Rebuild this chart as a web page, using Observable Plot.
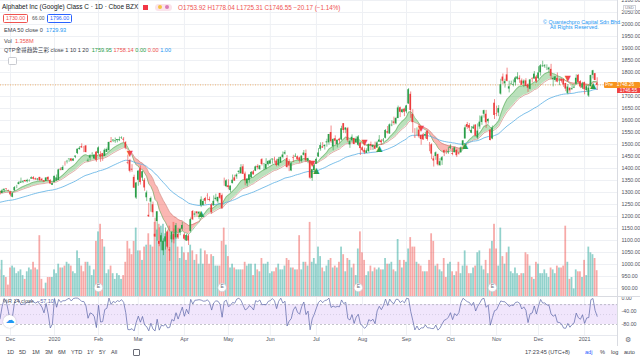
<!DOCTYPE html>
<html><head><meta charset="utf-8">
<script src="https://cdn.jsdelivr.net/npm/d3@7"></script>
<script src="https://cdn.jsdelivr.net/npm/@observablehq/plot@0.6"></script>
<style>
body{margin:0;background:#fff}
#wrap{position:relative;width:640px;height:360px;overflow:hidden;font-family:"Liberation Sans","Noto Sans CJK SC",Arial,sans-serif;background:#fff;color:#131722}
.layer{position:absolute;left:0}
.t{position:absolute;white-space:nowrap;line-height:1}
</style></head><body><div id="wrap"></div>
<script>
// ---------- DATA (GOOG daily, Nov 22 2019 -> Jan 12 2021) ----------
const open = [
1303,1296,1309,1315,1307,
1302,1280,1307,1328,1333,1339,1342,1350,1345,1347,1356,1362,1357,1352,1363,1355,1349,1346,1363,1350,1330,
1341,1348,1350,1397,1392,1420,1428,1437,1440,1431,1447,1462,1479,1491,1487,1494,1431,1443,1458,1440,1468,
1462,1457,1462,1450,1467,1474,1512,1515,1512,1516,1516,1525,1522,1508,1424,1433,1397,1363,1277,
1351,1399,1360,1351,1278,1205,1260,1249,1126,1179,1096,1093,1057,1094,1135,1061,1103,1126,1111,1126,1132,1147,
1123,1098,1119,1138,1221,1206,1219,1210,1245,1246,1275,1284,1271,1248,1245,1271,1261,1296,1287,1342,1324,
1328,1308,1337,1361,1365,1384,1378,1407,1377,1336,1350,1362,1386,1389,1409,1396,1437,1417,1397,1416,
1418,1436,1438,1431,1413,1422,1446,1460,1442,1428,1390,1445,1448,1449,1444,1430,1455,1462,1430,1432,1359,1391,
1418,1448,1480,1490,1491,1507,1507,1550,1491,1524,1500,1522,1519,1587,1560,1566,1498,1516,1525,1507,1497,1505,
1486,1476,1463,1471,1500,1488,1492,1485,1510,1515,1515,1526,1553,1544,1578,1594,1586,1608,1653,1633,1647,
1636,1669,1709,1625,1533,1557,1560,1538,1540,1536,1555,1496,1499,1440,1450,1458,1412,1432,1474,1470,1466,
1484,1462,1466,1475,1464,1465,1495,1523,1583,1579,1547,1565,1581,1527,1573,1592,1626,1626,1595,1560,1523,1672,
1628,1631,1710,1781,1753,1790,1731,1751,1747,1757,1772,1776,1765,1752,1765,1749,1730,1773,1773,1781,
1774,1799,1824,1824,1819,1811,1813,1770,1767,1775,1765,1772,1771,1754,1713,1734,1728,1735,1751,1788,1762,1735,
1758,1725,1702,1741,1788,1795,1753.9];
const high = [
1306,1313,1314,1316,1310,
1305,1299,1325,1330,1345,1360,1350,1351,1355,1353,1365,1366,1360,1358,1363,1359,1350,1362,1365,1354,1339,
1368,1373,1397,1403,1411,1428,1434,1440,1441,1441,1452,1481,1491,1503,1492,1495,1440,1457,1466,1457,1471,
1490,1470,1463,1482,1485,1509,1529,1520,1527,1521,1531,1532,1529,1512,1456,1438,1416,1372,1342,
1390,1411,1389,1358,1306,1255,1281,1260,1193,1220,1153,1130,1107,1152,1143,1071,1135,1148,1171,1151,1151,1176,
1130,1126,1124,1194,1225,1220,1220,1220,1282,1272,1280,1295,1281,1254,1286,1293,1281,1297,1294,1360,1353,
1353,1327,1373,1372,1378,1390,1416,1416,1385,1357,1374,1387,1392,1410,1416,1412,1441,1421,1441,1433,
1438,1440,1447,1438,1446,1447,1469,1474,1454,1437,1424,1455,1461,1452,1447,1452,1475,1477,1443,1432,1395,1416,
1444,1483,1507,1508,1499,1522,1542,1577,1524,1536,1518,1526,1576,1587,1570,1571,1517,1540,1526,1532,1537,1508,
1490,1485,1482,1502,1510,1497,1510,1513,1537,1521,1525,1562,1575,1586,1599,1614,1613,1660,1656,1647,1651,
1663,1733,1719,1645,1566,1569,1584,1540,1546,1551,1557,1508,1503,1451,1469,1460,1441,1450,1476,1477,1489,
1499,1483,1488,1480,1468,1490,1516,1580,1592,1587,1575,1581,1582,1586,1619,1621,1643,1642,1607,1563,1577,1687,
1660,1662,1772,1794,1772,1818,1764,1764,1769,1782,1799,1786,1773,1769,1774,1753,1771,1778,1804,1788,
1824,1833,1847,1833,1832,1822,1834,1781,1784,1798,1773,1773,1773,1755,1750,1737,1747,1747,1790,1792,1766,1759,
1760,1748,1748,1789,1809,1796,1778.0];
const low = [
1289,1295,1300,1309,1303,
1282,1278,1304,1316,1332,1338,1337,1342,1340,1343,1355,1352,1351,1348,1345,1347,1342,1346,1345,1333,1329,
1341,1347,1350,1390,1391,1410,1419,1426,1428,1429,1441,1458,1476,1484,1466,1465,1426,1431,1447,1437,1426,
1458,1426,1430,1450,1467,1474,1506,1508,1505,1507,1512,1521,1506,1478,1416,1382,1384,1317,1271,
1326,1331,1346,1305,1262,1196,1218,1196,1113,1097,1074,1057,1037,1060,1065,1013,1090,1086,1104,1104,1120,1139,
1099,1096,1079,1131,1183,1195,1196,1188,1237,1244,1250,1266,1261,1209,1242,1265,1254,1270,1230,1326,1320,
1311,1299,1336,1347,1355,1375,1377,1375,1328,1323,1339,1359,1373,1387,1394,1392,1411,1391,1395,1410,
1418,1418,1422,1407,1408,1422,1440,1456,1402,1387,1387,1425,1446,1434,1422,1423,1452,1425,1420,1355,1347,1385,
1418,1446,1472,1484,1477,1489,1497,1505,1474,1498,1486,1503,1516,1546,1545,1508,1484,1510,1499,1507,1492,1454,
1469,1458,1463,1466,1475,1475,1478,1485,1508,1497,1507,1523,1543,1542,1574,1580,1582,1608,1612,1630,1616,
1628,1667,1609,1547,1525,1535,1525,1497,1517,1523,1514,1470,1437,1406,1434,1410,1409,1413,1450,1458,1459,
1479,1453,1465,1446,1456,1465,1489,1523,1563,1554,1545,1563,1533,1519,1563,1580,1610,1567,1585,1515,1520,1604,
1616,1616,1706,1750,1735,1761,1715,1747,1740,1744,1768,1755,1746,1737,1741,1717,1728,1756,1772,1755,
1770,1785,1822,1817,1808,1797,1770,1740,1760,1757,1745,1756,1738,1720,1707,1713,1727,1733,1746,1753,1733,1729,
1707,1719,1696,1739,1773,1766,1725.3];
const close = [
1295.3,1306.7,1313.6,1313.0,1305.0,
1289.9,1295.3,1320.5,1328.1,1340.6,1343.6,1344.7,1345.0,1350.3,1347.8,1361.2,1355.1,1352.6,1356.0,1349.6,1348.8,1343.6,1360.4,1351.9,1336.1,1337.0,
1367.4,1360.7,1394.2,1393.3,1404.3,1419.8,1429.7,1439.2,1430.9,1439.2,1451.7,1480.4,1484.4,1486.0,1486.7,1466.7,1433.9,1452.6,1458.6,1455.8,1434.2,
1485.9,1447.1,1448.2,1476.2,1479.2,1508.7,1508.8,1518.3,1514.7,1520.7,1520.0,1526.7,1518.2,1485.1,1421.6,1388.5,1393.2,1318.1,1339.3,
1389.1,1341.4,1386.5,1319.0,1298.4,1198.8,1275.1,1215.6,1114.9,1219.7,1084.3,1119.8,1096.8,1115.3,1072.3,1056.6,1134.5,1102.5,1161.8,1110.7,1146.8,1162.8,
1105.6,1120.8,1097.9,1186.9,1186.5,1210.3,1211.5,1217.6,1269.2,1262.5,1263.5,1283.3,1266.6,1216.3,1263.2,1276.3,1279.3,1275.9,1233.7,1341.5,1348.7,
1320.6,1326.8,1351.1,1347.3,1372.6,1388.4,1403.3,1375.7,1349.3,1356.1,1373.2,1383.9,1373.5,1406.7,1402.8,1410.4,1417.0,1417.8,1416.7,1428.9,
1431.8,1439.2,1436.4,1412.2,1438.4,1446.6,1456.2,1465.9,1403.8,1413.2,1419.9,1442.7,1451.1,1436.0,1431.7,1451.9,1464.4,1432.0,1441.3,1359.9,1395.0,1413.6,
1438.0,1464.7,1495.7,1485.2,1496.0,1511.0,1541.7,1511.3,1520.6,1513.6,1518.0,1515.6,1565.7,1558.4,1568.5,1515.7,1511.9,1530.2,1500.3,1522.0,1531.5,1483.0,
1474.5,1465.0,1473.6,1500.1,1494.5,1496.1,1480.3,1506.6,1518.5,1507.7,1518.0,1558.6,1547.5,1581.8,1580.4,1588.2,1608.2,1652.4,1634.3,1644.4,1634.2,
1660.7,1728.3,1641.8,1591.0,1532.4,1557.0,1532.0,1520.7,1519.3,1541.4,1520.9,1495.5,1460.0,1431.2,1465.5,1415.2,1428.3,1445.0,1464.5,1469.3,1469.6,
1490.1,1458.4,1486.0,1453.4,1460.3,1485.9,1515.2,1569.2,1571.7,1568.1,1559.1,1573.0,1534.6,1555.9,1593.3,1615.3,1641.0,1590.5,1604.3,1516.6,1567.2,1621.0,
1626.0,1650.2,1749.1,1763.4,1761.8,1763.0,1740.4,1752.7,1749.8,1777.0,1781.4,1770.2,1746.8,1763.9,1742.2,1734.9,1768.9,1771.4,1793.2,1760.7,
1798.1,1828.0,1826.8,1828.0,1819.5,1818.6,1784.1,1775.3,1781.8,1760.1,1767.8,1763.0,1747.9,1731.0,1739.4,1723.5,1732.4,1738.9,1776.1,1758.7,1739.5,1751.9,
1728.2,1740.9,1735.3,1787.3,1807.2,1766.7,1746.6];
const volume = [ // millions
1.4,1.9,1.1,1.0,0.6,
1.5,1.6,1.5,1.2,1.3,1.4,1.1,0.9,1.3,1.5,1.4,1.8,1.5,1.4,3.2,0.9,0.4,0.7,1.0,1.0,1.0,
1.4,1.2,1.7,1.5,1.5,1.6,1.8,1.7,1.6,1.3,1.2,2.4,2.0,1.6,1.3,1.8,1.8,1.6,1.1,1.4,2.9,
3.4,3.8,3.0,2.6,1.2,1.4,1.6,1.2,0.9,1.2,1.1,0.9,1.1,1.8,2.9,2.5,2.2,2.9,3.6,
2.4,2.4,1.9,2.6,2.7,3.3,2.7,2.6,3.9,3.5,3.8,3.7,3.8,3.3,3.4,3.7,3.2,3.9,3.4,2.6,2.0,2.6,
2.3,1.9,2.3,2.7,2.4,1.9,2.2,1.7,2.5,1.7,2.4,2.2,1.7,2.2,2.1,1.6,1.6,1.6,2.9,3.6,2.7,
2.1,1.5,1.7,1.5,1.4,1.4,1.4,1.4,1.8,1.6,1.7,1.7,1.1,1.7,1.4,1.3,2.0,1.7,1.7,1.8,
1.2,1.3,1.3,1.5,1.7,1.4,1.4,1.6,2.0,1.9,1.5,1.5,1.4,1.4,3.2,1.4,1.8,1.8,1.6,3.9,1.8,2.0,
1.7,2.6,2.1,1.5,1.3,1.6,1.9,2.0,1.5,1.6,1.5,1.8,2.6,2.2,1.3,2.0,1.9,1.5,1.7,1.1,2.5,3.4,
2.3,1.9,1.1,1.3,1.6,1.3,1.5,1.4,1.5,1.4,1.4,2.0,1.7,1.7,1.8,1.4,1.3,3.0,1.9,1.5,1.9,
1.8,2.5,3.1,2.6,2.6,1.8,1.7,1.6,1.3,1.3,1.3,1.9,3.3,2.9,1.6,1.7,1.4,1.3,2.0,1.0,1.7,
1.8,1.3,1.1,1.3,1.8,1.2,1.6,2.4,1.6,1.2,1.2,1.5,1.6,2.3,2.4,1.6,1.4,1.9,1.2,2.5,2.9,3.8,
2.5,1.6,3.6,2.1,1.7,2.3,2.6,1.3,1.2,1.5,1.2,1.1,1.2,1.2,2.3,2.2,1.6,1.0,0.9,1.8,
1.7,1.2,1.2,1.4,1.2,1.0,1.5,1.4,1.2,1.6,1.5,1.5,1.6,3.7,1.8,0.9,1.0,0.4,1.4,1.3,1.3,1.0,
1.9,1.1,2.6,2.3,2.2,2.0,1.358];
const monthIdx    = [5,26,47,66,88,109,129,151,173,194,215,237,257,279];
const monthLabels = ["Dec","2020","Feb","Mar","Apr","May","Jun","Jul","Aug","Sep","Oct","Nov","Dec","2021"];
const earningsIdx = [47,106,171,235];
const priceTicks  = d3.range(900, 2101, 50);
const wrTicks     = [0,-40,-80];
const wrBand      = [-80,-20];
const wrMid       = [-50];
const preMarket   = [1748.26];
const lastPrice   = 1746.55;
const seedEma50 = 1258, seedFast = 1306, seedSlow = 1297;

// ---------- derived series ----------
const N = close.length;
function ema(src, len, seed){ const a = 2/(len+1); let p = seed; return src.map(v => (p = a*v + (1-a)*p)); }
const e50 = ema(close, 50, seedEma50), fast = ema(close, 10, seedFast), slow = ema(close, 20, seedSlow);
const bars = d3.range(N).map(i => ({i, o:open[i], h:high[i], l:low[i], c:close[i], v:volume[i],
  up: close[i] >= open[i], e50:e50[i], f:fast[i], s:slow[i]}));
bars.forEach((b,i) => { const lo = Math.max(0,i-13);
  const hh = d3.max(high.slice(lo,i+1)), ll = d3.min(low.slice(lo,i+1));
  b.wr = -100*(hh-b.c)/(hh-ll); });
const crossUp = [], crossDn = [];
for (let i=1;i<N;i++){
  if (fast[i]>slow[i] && fast[i-1]<=slow[i-1]) crossUp.push(bars[i]);
  if (fast[i]<slow[i] && fast[i-1]>=slow[i-1]) crossDn.push(bars[i]);
}
// axis labels hidden behind the last-price boxes (as on the reference)
const axisLabelTicks = priceTicks.filter(d => Math.abs(d - lastPrice) > 20);

// ---------- layout ----------
const W = 640, PANE_H = 296;
const xDom = [0.23, 294.7];
const GREEN = "#2a9d48", RED = "#ec3b3b";
const FONT = '"Liberation Sans",Arial,sans-serif';
const wrap = document.getElementById("wrap");
const base = {width:W, marginLeft:0, marginRight:23, marginTop:0,
  x:{domain:xDom, axis:null}, style:{background:"transparent", fontFamily:FONT, overflow:"visible"}};
function place(svg, top){ svg.classList.add("layer"); svg.style.top = top+"px"; wrap.appendChild(svg); }

// layer A: grid + price axis
place(Plot.plot({...base, height:PANE_H, marginBottom:0,
  y:{domain:[866.7,2100], axis:null},
  marks:[
    Plot.ruleY(priceTicks, {stroke:"#eef0f4", strokeWidth:1}),
    Plot.ruleX(monthIdx, {stroke:"#eef0f4", strokeWidth:1}),
    Plot.axisY({anchor:"right", ticks:axisLabelTicks, tickFormat:d=>d.toFixed(2), tickSize:0, tickPadding:4,
      fontSize:5.3, fill:"#50535e", label:null})
  ]}), 0);

// layer B: volume
place(Plot.plot({...base, height:PANE_H, marginBottom:0,
  y:{domain:[0, PANE_H/19], axis:null},
  marks:[
    Plot.rect(bars, {x1:d=>d.i-0.42, x2:d=>d.i+0.42, y1:0, y2:"v",
      fill:d=>d.up ? "rgba(38,166,154,0.5)" : "rgba(239,83,80,0.5)"}),
    Plot.dot(earningsIdx, {x:d=>d, frameAnchor:"bottom", dy:-9, r:4.3, fill:"white", stroke:"#c7c9d0", strokeWidth:0.7}),
    Plot.text(earningsIdx, {x:d=>d, frameAnchor:"bottom", dy:-9, text:()=>"E", fontSize:5, fill:"#6a6d78"})
  ]}), 0);

// layer C: price marks
place(Plot.plot({...base, height:PANE_H, marginBottom:0,
  y:{domain:[866.7,2100], axis:null},
  marks:[
    Plot.areaY(bars, {x:"i", y1:"s", y2:d=>Math.max(d.f,d.s), fill:"#4caf50", fillOpacity:0.38, curve:"linear"}),
    Plot.areaY(bars, {x:"i", y1:"f", y2:d=>Math.max(d.f,d.s), fill:"#f44336", fillOpacity:0.38, curve:"linear"}),
    Plot.lineY(bars, {x:"i", y:"f", stroke:"#5fae5f", strokeWidth:0.6}),
    Plot.lineY(bars, {x:"i", y:"s", stroke:"#c9736a", strokeWidth:0.6}),
    Plot.lineY(bars, {x:"i", y:"e50", stroke:"#59aee3", strokeWidth:0.8}),
    Plot.ruleY(preMarket, {stroke:"#f0922e", strokeDasharray:"1 1.5", strokeWidth:0.7}),
    Plot.ruleX(bars, {x:"i", y1:"l", y2:"h", stroke:d=>d.up?GREEN:RED, strokeWidth:0.6}),
    Plot.rect(bars, {x1:d=>d.i-0.38, x2:d=>d.i+0.38, y1:"o", y2:"c", fill:d=>d.up?GREEN:RED}),
    Plot.text(crossUp, {x:"i", y:"l", text:()=>"▲", dy:6, fontSize:8, fill:"#2e9e4a", fontFamily:"DejaVu Sans"}),
    Plot.text(crossDn, {x:"i", y:"h", text:()=>"▼", dy:-6, fontSize:8, fill:"#f04848", fontFamily:"DejaVu Sans"})
  ]}), 0);

// %R pane
place(Plot.plot({...base, height:50, marginBottom:12,
  y:{domain:[-113.2,1.5], axis:null},
  marks:[
    Plot.ruleX(monthIdx, {stroke:"#eef0f4"}),
    Plot.rect([wrBand], {y1:d=>d[0], y2:d=>d[1], fill:"#f1e6fc"}),
    Plot.ruleY(wrBand, {stroke:"#9a9ca6", strokeDasharray:"2 2", strokeWidth:0.6}),
    Plot.ruleY(wrMid, {stroke:"#c4c0d4", strokeDasharray:"1 2", strokeWidth:0.6}),
    Plot.lineY(bars, {x:"i", y:"wr", stroke:"#5a66a8", strokeWidth:0.7}),
    Plot.axisY({anchor:"right", ticks:wrTicks, tickFormat:d=>d.toFixed(2), tickSize:0, tickPadding:4,
      fontSize:5.3, fill:"#50535e", label:null}),
    Plot.axisX({anchor:"bottom", ticks:monthIdx, tickFormat:d=>monthLabels[monthIdx.indexOf(d)],
      tickSize:0, tickPadding:2, fontSize:5.3, fill:"#50535e", label:null})
  ]}), 297);

// ---------- HTML chrome ----------
function el(css, html){ const d = document.createElement("div"); d.className="t"; d.style.cssText = css; d.innerHTML = html||""; wrap.appendChild(d); return d; }
el("left:0;top:296px;width:640px;height:1px;background:#d9dbe1");
el("left:0;top:335px;width:617px;height:1px;background:#e6e8ee");
el("left:617px;top:0;width:1px;height:346px;background:#d9dbe1");

// legend
el("left:2px;top:4.4px;font-size:6.45px;color:#131722", "Alphabet Inc (Google) Class C · 1D · Cboe BZX");
el("left:143px;top:5px;width:5px;height:5px;background:#f23645");
el("left:155px;top:3.5px;width:17px;height:7px;border-radius:4px;background:#fbe3ea");
el("left:158px;top:5px;width:4px;height:4px;border-radius:2px;background:#f5c342");
el("left:165px;top:5px;width:4px;height:4px;border-radius:2px;background:#d87bb5");
el("left:178px;top:4.6px;font-size:6.3px;color:#ef5350", "O1753.92 H1778.04 L1725.31 C1746.55 −20.17 (−1.14%)");
el("left:3px;top:14px;height:7px;padding:0 2px;border:0.8px solid #ef5350;border-radius:1.5px;font-size:5.3px;line-height:7px;color:#ef5350", "1730.00");
el("left:32px;top:15px;font-size:5px;line-height:7px;color:#555", "66.00");
el("left:47px;top:14px;height:7px;padding:0 2px;border:0.8px solid #2962ff;border-radius:1.5px;font-size:5.3px;line-height:7px;color:#2962ff", "1796.00");
el("left:4px;top:28px;font-size:5.6px;color:#3b3e49", 'EMA 50 close 0 &nbsp;<span style="color:#2196f3">1729.93</span>');
el("left:4px;top:38.5px;font-size:5.6px;color:#3b3e49", 'Vol &nbsp;<span style="color:#ef5350">1.358M</span>');
el("left:4px;top:48.2px;font-size:5.6px;color:#3b3e49;font-family:\"Liberation Sans\",\"Noto Sans CJK SC\",sans-serif",
  'QTP金哥趋势三彩 close 1 10 1 20 &nbsp;<span style="color:#2a9d48">1759.95</span> <span style="color:#ef5350">1758.14</span> <span style="color:#2a9d48">0.00</span> <span style="color:#ef5350">0.00</span> <span style="color:#2196f3">1.00</span>');
el("left:8px;top:57px;width:7px;height:6px;border:0.7px solid #c8cad0;border-radius:1.5px;background:#fff");

// copyright
el("left:543px;top:19.5px;font-size:5.4px;color:#2196f3", "© Quantechpro Capital Sdn Bhd.");
el("left:550px;top:25px;font-size:5.4px;color:#2196f3", "All Rights Reserved.");
el("left:623px;top:5px;font-size:4.2px;color:#787b86;border:0.5px solid #d0d2d8;padding:0 1px;background:#fff", "USD");

// price labels
el("left:604px;top:82px;width:36px;height:5.6px;background:#f7931e;border-radius:1px;font-size:4.8px;line-height:5.6px;color:#fff", '&nbsp;Pre &nbsp;&nbsp;' + preMarket[0].toFixed(2));
el("left:617px;top:87.6px;width:23px;height:5.4px;background:#ef4444;font-size:4.8px;line-height:5.4px;color:#fff;text-align:center", lastPrice.toFixed(2));

// %R label + cloud icon
el("left:3px;top:299px;font-size:5.5px;color:#50535e", '%R 14 close &nbsp;<span style="color:#5a66a8">−57.10</span>');
el("left:3px;top:315px;width:13px;height:13px;border-radius:7px;background:#fff;box-shadow:0 0 1.5px #aab");
el("left:5.5px;top:316px;font-size:9px;color:#2196f3;font-family:'DejaVu Sans'", "☁");

// bottom toolbar
const ranges = ["1D","5D","1M","3M","6M","YTD","1Y","5Y","All"];
const rangeX = [7,19,32,45,58,71,87,99,111];
ranges.forEach((r,k)=> el(`left:${rangeX[k]}px;top:349.5px;font-size:5.6px;color:#3b3e49`, r));
el("left:133px;top:349px;width:5px;height:5px;border:0.7px solid #6a6d78;border-radius:1px");
el("left:525px;top:349.5px;font-size:5.6px;color:#3b3e49", "17:23:45 (UTC+8)");
el("left:585px;top:349.5px;font-size:5.6px;color:#2962ff", "adj");
el("left:600px;top:349.5px;font-size:5.6px;color:#3b3e49", "%");
el("left:611px;top:349.5px;font-size:5.6px;color:#3b3e49", "log");
el("left:624px;top:349.5px;font-size:5.6px;color:#3b3e49", "auto");
el("left:625px;top:337px;font-size:7px;color:#6a6d78;font-family:'DejaVu Sans'", "⚙");
</script></body></html>
